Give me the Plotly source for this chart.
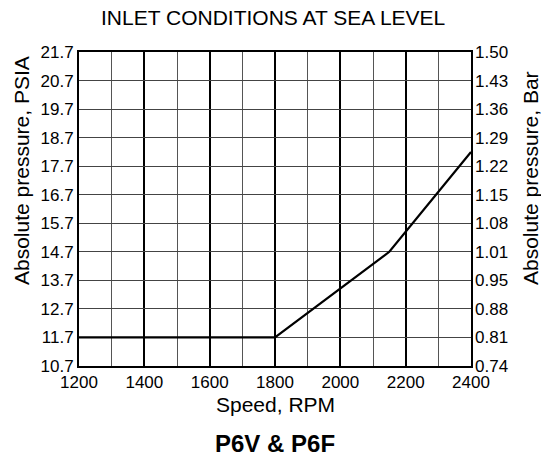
import plotly.graph_objects as go

# Inlet pressure vs. speed curve (P6V & P6F)
speed_rpm = [1200, 1800, 2150, 2400]
pressure_psia = [11.7, 11.7, 14.7, 18.2]

# Axis ticks
psia_ticks = [10.7, 11.7, 12.7, 13.7, 14.7, 15.7, 16.7, 17.7, 18.7, 19.7, 20.7, 21.7]
bar_labels = ["0.74", "0.81", "0.88", "0.95", "1.01", "1.08", "1.15",
              "1.22", "1.29", "1.36", "1.43", "1.50"]
speed_ticks = [1200, 1400, 1600, 1800, 2000, 2200, 2400]

FONT = "Liberation Sans, Arial, Helvetica, sans-serif"
W, H = 541, 456
ML, MR, MT, MB = 79, 70, 52, 90
PW, PH = W - ML - MR, H - MT - MB


def px_x(x):
    """Pixel column -> paper x coordinate."""
    return (x - ML) / PW


def px_y(y):
    """Pixel row -> paper y coordinate."""
    return (H - MB - y) / PH


fig = go.Figure()
fig.add_trace(go.Scatter(
    x=speed_rpm, y=pressure_psia, mode="lines",
    line=dict(color="black", width=2.2), showlegend=False, hoverinfo="skip",
))
# invisible trace so the secondary (bar) axis is rendered
fig.add_trace(go.Scatter(
    x=[speed_rpm[0]], y=[psia_ticks[0]], yaxis="y2", mode="markers",
    marker=dict(opacity=0), showlegend=False, hoverinfo="skip",
))

title_font = dict(family=FONT, size=21, color="black")
tick_font = dict(family=FONT, size=17, color="black")

fig.update_layout(
    width=W, height=H,
    margin=dict(l=ML, r=MR, t=MT, b=MB),
    paper_bgcolor="white", plot_bgcolor="white",
    font=dict(family=FONT, size=17, color="black"),
    xaxis=dict(
        range=[1200, 2400], tickvals=speed_ticks,
        showgrid=True, gridcolor="black", gridwidth=2,
        minor=dict(dtick=100, tick0=1200, showgrid=True, gridcolor="#555555", gridwidth=1),
        showline=True, linecolor="black", linewidth=2, mirror=True,
        ticks="", zeroline=False, tickfont=tick_font,
    ),
    yaxis=dict(
        range=[10.7, 21.7], tickvals=psia_ticks,
        ticktext=[f"{v:.1f}" for v in psia_ticks],
        showgrid=True, gridcolor="#444444", gridwidth=1,
        showline=True, linecolor="black", linewidth=2, mirror=True,
        ticks="", zeroline=False, tickfont=tick_font,
    ),
    yaxis2=dict(
        range=[10.7, 21.7], tickvals=psia_ticks, ticktext=bar_labels,
        overlaying="y", side="right", showgrid=False, zeroline=False, ticks="",
        ticklabelstandoff=3, tickfont=tick_font,
    ),
    annotations=[
        dict(text="INLET CONDITIONS AT SEA LEVEL", xref="paper", yref="paper",
             x=px_x(273), y=px_y(17.5), xanchor="center", yanchor="middle",
             showarrow=False, font=title_font),
        dict(text="Speed, RPM", xref="paper", yref="paper",
             x=px_x(275), y=px_y(404), xanchor="center", yanchor="middle",
             showarrow=False, font=title_font),
        dict(text="Absolute pressure, PSIA", xref="paper", yref="paper",
             x=px_x(21), y=px_y(171), xanchor="center", yanchor="middle",
             textangle=-90, showarrow=False, font=title_font),
        dict(text="Absolute pressure, Bar", xref="paper", yref="paper",
             x=px_x(530), y=px_y(178), xanchor="center", yanchor="middle",
             textangle=-90, showarrow=False, font=title_font),
        dict(text="<b>P6V & P6F</b>", xref="paper", yref="paper",
             x=px_x(275), y=px_y(443), xanchor="center", yanchor="middle",
             showarrow=False, font=dict(family=FONT, size=24, color="black")),
    ],
)

fig.write_html("out.html")
